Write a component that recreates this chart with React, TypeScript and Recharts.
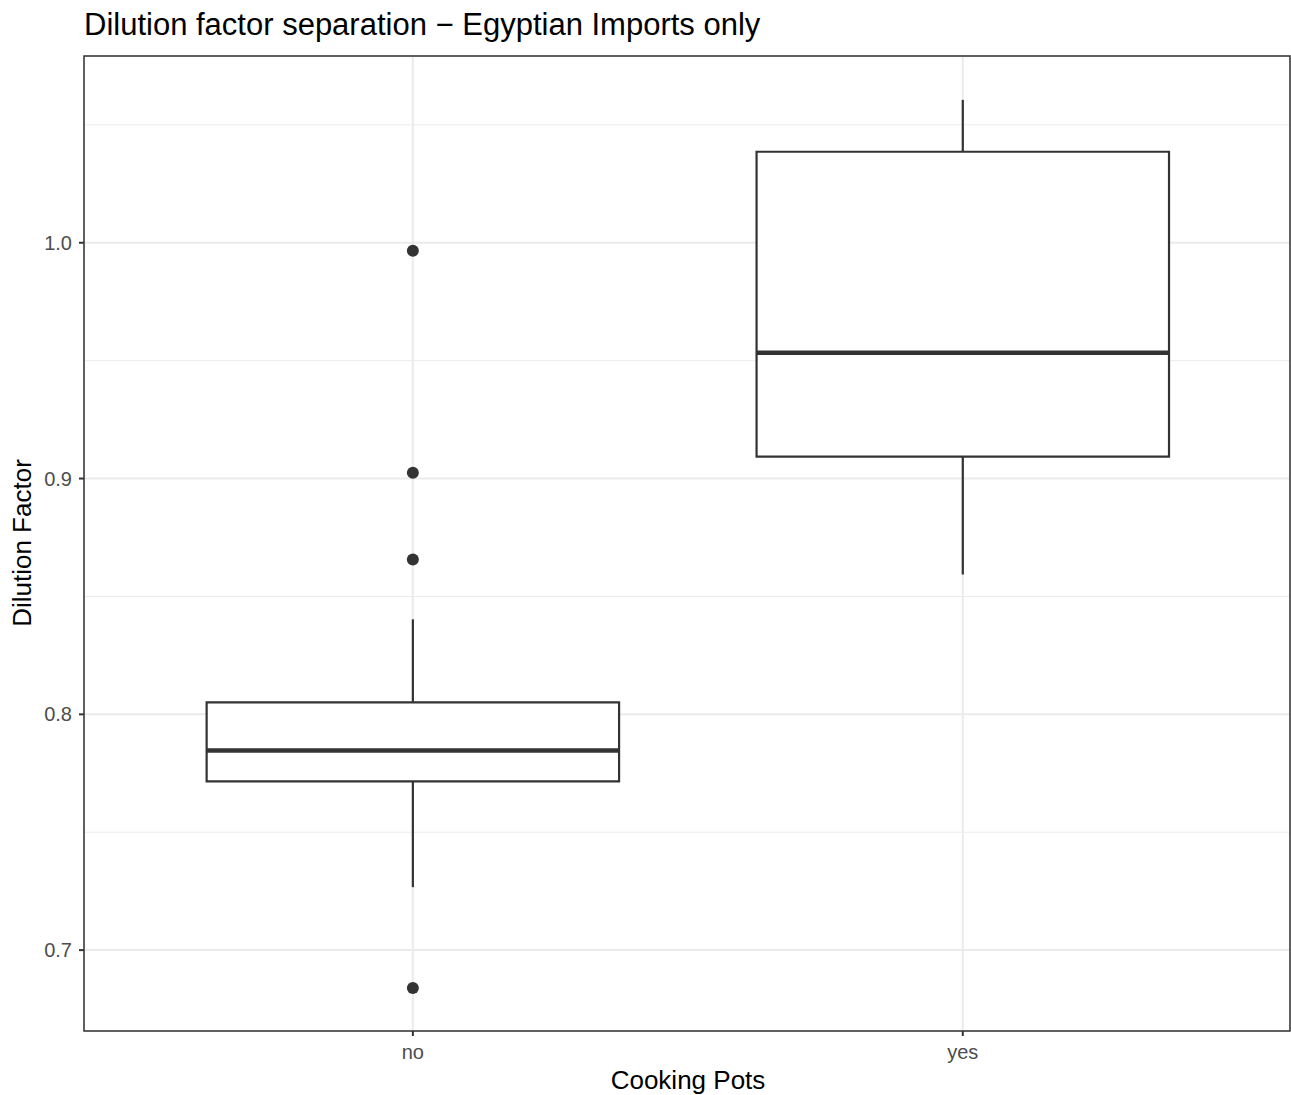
import {
  ComposedChart, XAxis, YAxis, CartesianGrid, ReferenceArea, ReferenceLine, Scatter,
} from 'recharts';

const categories = ['no', 'yes'];
const catPositions = [1, 2];
const lowerWhisker = [0.7267, 0.8593];
const q1 = [0.7716, 0.9093];
const median = [0.7847, 0.9534];
const q3 = [0.8051, 1.0386];
const upperWhisker = [0.8403, 1.0606];
const outliersNo = [0.9966, 0.9025, 0.8657, 0.6839];
const outliersYes: number[] = [];

const yTicks = [0.7, 0.8, 0.9, 1.0];
const yMinorTicks = [0.75, 0.85, 0.95, 1.05];

const W = 1291;
const H = 1095;
const BOX_HALF = 0.375;
const INK = '#333333';
const Y_DOMAIN: [number, number] = [0.6657, 1.0792];
const X_DOMAIN: [number, number] = [0.402, 2.595];
const FONT = '"Liberation Sans", Arial, Helvetica, sans-serif';

const outlierData = [
  ...outliersNo.map((y) => ({ x: catPositions[0], y })),
  ...outliersYes.map((y) => ({ x: catPositions[1], y })),
];

const Dot = (props: any) => <circle cx={props.cx} cy={props.cy} r={6} fill={INK} />;

export default function App() {
  return (
    <div style={{ position: 'absolute', left: 0, top: 0, width: W, height: H, background: '#fff', fontFamily: FONT }}>
      <ComposedChart width={W} height={H} margin={{ top: 56, right: 1, left: 0, bottom: 0 }}>
        {/* minor grid first, then major on top */}
        <CartesianGrid stroke="#ebebeb" strokeWidth={1} vertical={false} horizontalValues={yMinorTicks} />
        <CartesianGrid stroke="#ebebeb" strokeWidth={2} />
        <XAxis
          type="number"
          dataKey="x"
          domain={X_DOMAIN}
          ticks={catPositions}
          allowDataOverflow
          tickFormatter={(v: number) => categories[catPositions.indexOf(v)] ?? ''}
          height={64}
          tickSize={5}
          tickMargin={9}
          axisLine={false}
          tickLine={{ stroke: INK, strokeWidth: 2 }}
          tick={{ fill: '#4d4d4d', fontSize: 20, fontFamily: FONT }}
        />
        <YAxis
          type="number"
          dataKey="y"
          domain={Y_DOMAIN}
          ticks={yTicks}
          allowDataOverflow
          tickFormatter={(v: number) => v.toFixed(1)}
          width={84}
          tickSize={5}
          tickMargin={7}
          axisLine={false}
          tickLine={{ stroke: INK, strokeWidth: 2 }}
          tick={{ fill: '#4d4d4d', fontSize: 20, fontFamily: FONT }}
        />
        {catPositions.map((c, i) => (
          <ReferenceLine key={`lw${i}`} segment={[{ x: c, y: lowerWhisker[i] }, { x: c, y: q1[i] }]} stroke={INK} strokeWidth={2.2} />
        ))}
        {catPositions.map((c, i) => (
          <ReferenceLine key={`uw${i}`} segment={[{ x: c, y: q3[i] }, { x: c, y: upperWhisker[i] }]} stroke={INK} strokeWidth={2.2} />
        ))}
        {catPositions.map((c, i) => (
          <ReferenceArea key={`box${i}`} x1={c - BOX_HALF} x2={c + BOX_HALF} y1={q1[i]} y2={q3[i]} fill="#fff" fillOpacity={1} stroke={INK} strokeWidth={2.2} />
        ))}
        {catPositions.map((c, i) => (
          <ReferenceLine key={`med${i}`} segment={[{ x: c - BOX_HALF, y: median[i] }, { x: c + BOX_HALF, y: median[i] }]} stroke={INK} strokeWidth={4.5} />
        ))}
        <Scatter data={outlierData} dataKey="y" shape={Dot} isAnimationActive={false} />
        <ReferenceArea x1={X_DOMAIN[0]} x2={X_DOMAIN[1]} y1={Y_DOMAIN[0]} y2={Y_DOMAIN[1]} fill="none" stroke={INK} strokeWidth={1.5} ifOverflow="visible" />
      </ComposedChart>
      <svg width={W} height={H} style={{ position: 'absolute', left: 0, top: 0, pointerEvents: 'none' }}>
        <text x={84} y={35} fontSize={31} fill="#000" fontFamily={FONT}>
          Dilution factor separation − Egyptian Imports only
        </text>
        <text x={688} y={1089} fontSize={26} fill="#000" textAnchor="middle" fontFamily={FONT}>
          Cooking Pots
        </text>
        <text x={31} y={543} fontSize={26} fill="#000" textAnchor="middle" fontFamily={FONT} transform="rotate(-90 31 543)">
          Dilution Factor
        </text>
      </svg>
    </div>
  );
}
